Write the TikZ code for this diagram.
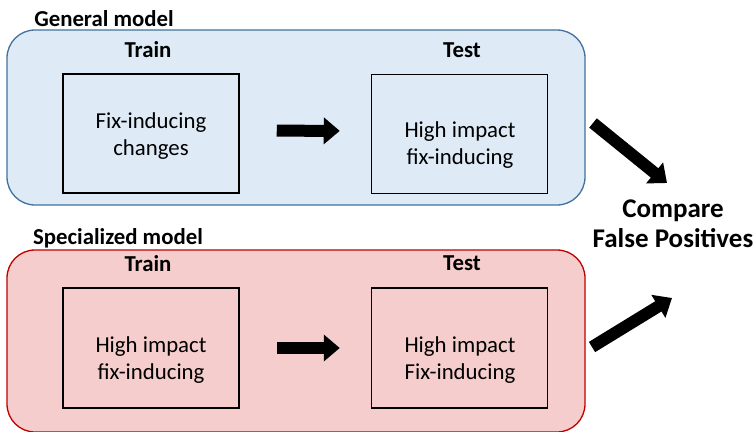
\documentclass[tikz,border=0pt]{standalone}
\usepackage{fontspec}
\setmainfont{Carlito}
\usepackage{xcolor}
\usepackage{tikz}
\usetikzlibrary{arrows.meta}
\usetikzlibrary{positioning}
\definecolor{genfill}{RGB}{222,234,246}
\definecolor{gendraw}{RGB}{65,113,156}
\definecolor{specfill}{RGB}{244,205,204}
\definecolor{specdraw}{RGB}{192,0,0}
\tikzset{>=latex}
\tikzstyle{model} = [rectangle, rounded corners = 28pt, line width = 1.3pt, minimum width = 578pt, inner sep = 0]
\tikzstyle{setbox} = [rectangle, draw = black, line width = 1.5pt, minimum width = 176pt, minimum height = 119pt]
\tikzstyle{head} = [draw = none, inner sep = 0, font = \fontsize{22.8}{27}\selectfont\bfseries]
\tikzstyle{txt} = [draw = none, inner sep = 0, align = center, font = \fontsize{22.8}{27}\selectfont]
\tikzstyle{fat} = [-{Triangle[length = 16pt, width = 26pt]}, line width = 12pt, draw = black]

\begin{document}
\begin{tikzpicture}[x = 1pt, y = -1pt]
\useasboundingbox (0, 0) rectangle (754, 431);
% general model
\node [model, fill = genfill, draw = gendraw, minimum height = 175pt] (G) at (296, 117.5) {};
\node [head] (Glab) at (104, 19) {General model};
\node [head] (Gtr) at (148, 50) {Train};
\node [head] (Gte) at (462, 50) {Test};
\node [setbox] (Ga) at (151, 133.5) {};
\node [setbox] (Gb) at (459.5, 134) {};
\node [txt] (Gat) at (151, 136) {Fix-inducing\\changes};
\node [txt] (Gbt) at (460, 145) {High impact\\fix-inducing};
\draw [fat, shorten < = 37pt, shorten > = 31pt] ([yshift = 3pt]Ga.east) -- ([yshift = 3pt]Gb.west);
% specialized model
\node [model, fill = specfill, draw = specdraw, minimum height = 182pt] (S) at (296, 341) {};
\node [head] (Slab) at (118, 238.5) {Specialized model};
\node [head] (Str) at (148, 263.5) {Train};
\node [head] (Ste) at (462, 263.5) {Test};
\node [setbox, minimum height = 120pt] (Sa) at (151, 348) {};
\node [setbox, minimum height = 120pt] (Sb) at (459.5, 348) {};
\node [txt] (Sat) at (151, 360) {High impact\\fix-inducing};
\node [txt] (Sbt) at (460, 360) {High impact\\Fix-inducing};
\draw [fat, shorten < = 37pt, shorten > = 31pt] (Sa) -- (Sb);
% comparison
\node [txt, font = \fontsize{27}{30}\selectfont\bfseries] (C) at (673, 224) {Compare\\False Positives};
\coordinate (Gout) at (593, 123);
\coordinate (Gin) at (667, 183);
\coordinate (Sout) at (592, 347);
\coordinate (Sin) at (672, 298);
\draw [fat] (Gout) -- (Gin);
\draw [fat] (Sout) -- (Sin);
\end{tikzpicture}
\end{document}
